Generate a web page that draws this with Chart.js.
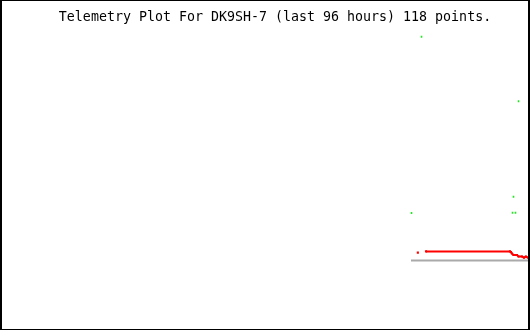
<!DOCTYPE html>
<html>
<head>
<meta charset="utf-8">
<title>Telemetry Plot</title>
<script src="https://cdn.jsdelivr.net/npm/chart.js@4"></script>
<style>
  html, body { margin: 0; padding: 0; background: #fff; }
  #wrap { width: 530px; height: 330px; }
</style>
</head>
<body>
<div id="wrap"><canvas id="telemetryChart" width="530" height="330"></canvas></div>
<script>
// ==========================================
// TELEMETRY PLOT (Chart.js)
// x = hours relative to now (last 96 hours), y = raw telemetry value 0..255
// ==========================================

const titleText = 'Telemetry Plot For DK9SH-7 (last 96 hours) 118 points.';

// channel 1 (red) - null marks a gap in the samples
const redHours = [-20.9, null, -19.35, -3.42, -3.23, -3.04, -2.75, -2.09, -1.8, -1.14, -0.76, -0.4, 0];
const redValues = [64.6, null, 65.6, 65.6, 65, 63.8, 62.5, 62.5, 61.2, 61.2, 60.3, 61.2, 60.3];

// channel 2 (green) - sparse samples
const greenHours = [-22.1, -20.2, -2.94, -2.75, -2.37, -1.8];
const greenValues = [98.4, 249.4, 98.8, 112.5, 98.8, 194.2];

// channel 3 (gray) - constant
const grayHours = [-22.2, 0];
const grayValues = [57.8, 57.8];

function toPoints(hours, values) {
  return hours.map(function (h, i) {
    return h === null ? { x: null, y: null } : { x: h, y: values[i] };
  });
}

// frame round the whole picture
const framePlugin = {
  id: 'frame',
  afterDraw: function (chart) {
    const ctx = chart.ctx;
    const w = chart.width;
    const h = chart.height;
    ctx.save();
    ctx.fillStyle = '#000';
    ctx.fillRect(0, 0, w, 1);
    ctx.fillRect(0, h - 1, w, 1);
    ctx.fillRect(0, 0, 2, h);
    ctx.fillRect(w - 2, 0, 2, h);
    ctx.restore();
  },
};

const telemetryConfig = {
  type: 'scatter',
  data: {
    datasets: [
      {
        label: 'Channel 3',
        data: toPoints(grayHours, grayValues),
        showLine: true,
        borderColor: '#aaaaaa',
        borderWidth: 2,
        pointRadius: 0,
      },
      {
        label: 'Channel 1',
        data: toPoints(redHours, redValues),
        showLine: true,
        spanGaps: false,
        borderColor: '#ff0000',
        borderWidth: 2,
        pointStyle: 'rect',
        pointRadius: 1.5,
        pointBorderWidth: 0,
        pointBackgroundColor: '#ff0000',
      },
      {
        label: 'Channel 2',
        data: toPoints(greenHours, greenValues),
        showLine: false,
        pointStyle: 'line',
        pointRotation: 90,
        pointRadius: 1,
        pointBorderWidth: 1.6,
        pointBorderColor: '#1ee81e',
        pointBackgroundColor: '#1ee81e',
      },
    ],
  },
  options: {
    responsive: false,
    animation: false,
    layout: {
      autoPadding: false,
      padding: { left: 22, right: 2, top: 0, bottom: 2 },
    },
    plugins: {
      title: {
        display: true,
        text: titleText,
        color: '#000',
        font: { family: 'DejaVu Sans Mono', size: 13.3, weight: 'normal', lineHeight: 1 },
        padding: { top: 11, bottom: 6 },
      },
      legend: { display: false },
      tooltip: { enabled: false },
    },
    scales: {
      x: { type: 'linear', min: -96, max: 0, display: false },
      y: { type: 'linear', min: 0, max: 255, display: false },
    },
  },
  plugins: [framePlugin],
};

const telemetryChart = new Chart(
  document.getElementById('telemetryChart'),
  telemetryConfig
);
</script>
</body>
</html>
